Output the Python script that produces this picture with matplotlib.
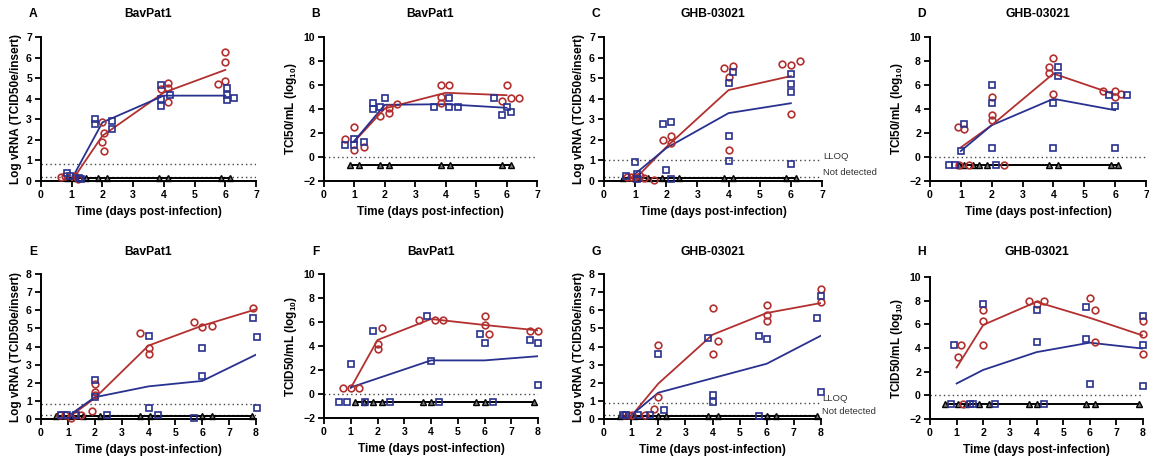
import matplotlib
matplotlib.use("Agg")
import matplotlib.pyplot as plt
import numpy as np

plt.rcParams["font.family"] = ["Liberation Sans", "DejaVu Sans"]
plt.rcParams["font.weight"] = "bold"
plt.rcParams["mathtext.fontset"] = "custom"
plt.rcParams["mathtext.rm"] = "Liberation Sans:bold"
plt.rcParams["mathtext.bf"] = "Liberation Sans:bold"

RED = "#B2302F"
BLUE = "#28318F"

# ---- panel A: BavPat1, vRNA ----
A_RED_X = [0.65, 0.78, 1.1, 1.2, 2.0, 2.05, 2.0, 2.05, 3.9, 4.15, 4.15, 4.15, 5.75, 6.0, 6.0, 6.0]
A_RED_Y = [0.2, 0.25, 0.25, 0.1, 2.85, 2.35, 1.9, 1.45, 4.45, 4.75, 4.5, 3.85, 4.7, 6.25, 5.8, 4.85]
A_BLUE_X = [0.85, 0.95, 1.25, 1.3, 1.75, 1.75, 2.3, 2.3, 3.9, 3.9, 3.9, 4.2, 6.05, 6.05, 6.05, 6.3]
A_BLUE_Y = [0.4, 0.25, 0.15, 0.1, 3.0, 2.75, 2.9, 2.55, 4.65, 4.0, 3.65, 4.2, 4.5, 4.2, 3.95, 4.05]
A_RED_MEAN = [0.0, 2.2, 4.3, 5.4]
A_BLUE_MEAN = [0.1, 2.85, 4.15, 4.15]
A_ND_X = [0.85, 1.15, 1.45, 1.85, 2.15, 3.85, 4.15, 5.85, 6.15]

# ---- panel B: BavPat1, titre ----
B_RED_X = [0.7, 1.0, 1.0, 1.3, 1.85, 2.15, 2.15, 2.4, 3.85, 4.1, 3.85, 3.85, 6.0, 5.85, 6.15, 6.4]
B_RED_Y = [1.5, 2.5, 0.55, 0.8, 3.45, 4.1, 3.7, 4.45, 6.0, 6.0, 5.0, 4.5, 6.0, 4.7, 4.95, 4.95]
B_BLUE_X = [0.7, 1.0, 1.0, 1.3, 1.6, 1.6, 1.85, 2.0, 3.6, 4.1, 4.1, 4.4, 5.6, 6.0, 5.85, 6.15]
B_BLUE_Y = [1.0, 1.5, 1.0, 1.25, 4.5, 4.0, 4.2, 4.95, 4.2, 4.95, 4.2, 4.2, 4.95, 4.2, 3.5, 3.75]
B_RED_MEAN = [1.3, 4.05, 5.35, 5.15]
B_BLUE_MEAN = [1.35, 4.35, 4.4, 4.1]
B_ND_X = [0.85, 1.15, 1.85, 2.15, 3.85, 4.15, 5.85, 6.15]

# ---- panel C: GHB-03021, vRNA ----
C_RED_X = [0.75, 0.88, 1.0, 1.15, 1.3, 1.6, 1.9, 2.15, 2.15, 3.85, 4.0, 4.15, 4.0, 5.7, 6.0, 6.3, 6.0]
C_RED_Y = [0.2, 0.2, 0.2, 0.22, 0.15, 0.05, 2.0, 2.2, 1.85, 5.5, 5.05, 5.6, 1.5, 5.7, 5.65, 5.85, 3.25]
C_BLUE_X = [0.72, 1.0, 1.05, 1.05, 1.9, 2.15, 2.0, 2.15, 4.0, 4.15, 4.0, 4.0, 6.0, 6.0, 6.0, 6.0]
C_BLUE_Y = [0.25, 0.9, 0.35, 0.08, 2.75, 2.85, 0.55, 0.08, 4.75, 5.3, 2.2, 0.95, 5.2, 4.7, 4.35, 0.85]
C_RED_MEAN = [0.1, 1.65, 4.42, 5.1]
C_BLUE_MEAN = [0.35, 1.6, 3.3, 3.78]
C_ND_X = [0.6, 1.0, 1.4, 1.85, 2.4, 3.85, 4.15, 5.85, 6.15]

# ---- panel D: GHB-03021, titre ----
D_RED_X = [0.92, 1.1, 0.95, 1.25, 2.4, 2.0, 2.0, 2.0, 4.0, 3.85, 3.85, 4.0, 5.6, 6.0, 6.0, 6.2]
D_RED_Y = [2.5, 2.3, -0.7, -0.7, -0.7, 5.0, 3.5, 3.05, 8.25, 7.5, 7.0, 5.25, 5.5, 5.5, 5.0, 5.25]
D_BLUE_X = [1.0, 1.1, 0.6, 0.8, 2.15, 2.0, 2.0, 2.0, 4.15, 4.15, 4.0, 4.0, 5.8, 6.4, 6.0, 6.0]
D_BLUE_Y = [0.5, 2.75, -0.7, -0.7, -0.7, 6.0, 4.5, 0.75, 7.5, 6.75, 4.5, 0.75, 5.2, 5.2, 4.25, 0.75]
D_RED_MEAN = [0.8, 2.65, 6.95, 5.2]
D_BLUE_MEAN = [0.5, 2.65, 4.85, 3.9]
D_ND_X = [0.95, 1.1, 1.4, 1.6, 1.85, 3.85, 4.15, 5.85, 6.1]

# ---- panel E: BavPat1, vRNA ----
E_RED_X = [0.7, 0.9, 1.1, 1.25, 1.5, 1.9, 2.0, 2.0, 2.0, 3.7, 4.0, 4.0, 5.7, 6.0, 6.35, 7.9]
E_RED_Y = [0.2, 0.2, 0.05, 0.2, 0.2, 0.45, 1.95, 1.5, 1.35, 4.75, 3.9, 3.6, 5.35, 5.05, 5.15, 6.1]
E_BLUE_X = [0.75, 0.95, 1.3, 2.0, 2.0, 2.45, 4.0, 4.0, 4.35, 6.0, 6.0, 5.7, 7.9, 8.05, 8.05]
E_BLUE_Y = [0.2, 0.2, 0.2, 2.15, 1.2, 0.2, 4.6, 0.6, 0.2, 3.9, 2.35, 0.05, 5.55, 4.55, 0.6]
E_RED_MEAN = [0.05, 1.15, 4.05, 5.15, 6.05]
E_BLUE_MEAN = [0.15, 1.2, 1.8, 2.1, 3.55]
E_ND_X = [0.55, 1.05, 1.55, 2.2, 3.7, 4.05, 6.0, 6.35, 7.85]

# ---- panel F: BavPat1, titre ----
F_RED_X = [0.7, 1.0, 1.3, 2.0, 2.0, 2.15, 3.55, 4.15, 4.45, 6.0, 6.0, 6.15, 7.7, 8.0]
F_RED_Y = [0.5, 0.5, 0.5, 4.2, 3.75, 5.5, 6.2, 6.2, 6.2, 6.5, 5.75, 5.0, 5.25, 5.25]
F_BLUE_X = [1.0, 0.55, 0.85, 1.55, 2.45, 4.3, 6.3, 1.85, 3.85, 4.0, 5.85, 6.0, 7.7, 8.0, 8.0]
F_BLUE_Y = [2.5, -0.7, -0.7, -0.7, -0.7, -0.7, -0.7, 5.25, 6.5, 2.75, 5.0, 4.25, 4.5, 4.25, 0.75]
F_RED_MEAN = [0.5, 4.5, 6.25, 5.75, 5.3]
F_BLUE_MEAN = [0.55, 1.3, 2.8, 2.8, 3.15]
F_ND_X = [1.15, 1.5, 1.85, 2.15, 3.7, 4.0, 5.7, 6.0, 7.85]

# ---- panel G: GHB-03021, vRNA ----
G_RED_X = [0.75, 0.9, 1.05, 1.5, 1.85, 2.0, 2.0, 4.0, 4.0, 4.2, 6.0, 6.0, 6.0, 8.0, 8.0]
G_RED_Y = [0.2, 0.2, 0.2, 0.2, 0.55, 1.2, 4.1, 6.15, 3.6, 4.3, 6.3, 5.75, 5.4, 7.2, 6.45]
G_BLUE_X = [0.7, 0.8, 1.25, 1.7, 2.0, 2.2, 3.85, 4.0, 4.0, 5.7, 6.0, 5.7, 8.0, 7.85, 8.0]
G_BLUE_Y = [0.2, 0.2, 0.2, 0.2, 3.6, 0.5, 4.45, 1.35, 0.95, 4.6, 4.4, 0.15, 6.8, 5.55, 1.5]
G_RED_MEAN = [0.15, 1.95, 4.65, 5.85, 6.4]
G_BLUE_MEAN = [0.2, 1.45, 2.25, 3.05, 4.6]
G_ND_X = [0.58, 1.1, 2.0, 2.3, 3.85, 4.2, 6.0, 6.35, 7.85]

# ---- panel H: GHB-03021, titre ----
H_RED_X = [1.05, 1.15, 1.25, 2.0, 2.0, 2.0, 3.7, 4.0, 4.3, 6.0, 6.2, 6.2, 8.0, 8.0, 8.0]
H_RED_Y = [3.25, 4.25, -0.7, 7.25, 6.25, 4.25, 8.0, 7.75, 8.0, 8.25, 7.25, 4.5, 6.25, 5.2, 3.5]
H_BLUE_X = [0.9, 0.8, 1.5, 1.6, 2.45, 4.3, 2.0, 4.0, 4.0, 5.85, 5.85, 6.0, 8.0, 8.0, 8.0]
H_BLUE_Y = [4.25, -0.7, -0.7, -0.7, -0.7, -0.7, 7.75, 7.25, 4.5, 7.5, 4.75, 1.0, 6.7, 4.25, 0.75]
H_RED_MEAN = [2.35, 5.95, 7.9, 6.55, 5.05]
H_BLUE_MEAN = [1.0, 2.15, 3.65, 4.45, 3.95]
H_ND_X = [0.55, 1.05, 1.35, 1.85, 2.2, 3.7, 4.0, 5.85, 6.2, 7.85]

DAYS_SHORT = [1, 2, 4, 6]
DAYS_LONG = [1, 2, 4, 6, 8]

RNA_LABEL = "Log vRNA (TCID50e/insert)"
TCI_LABEL = r"TCI50/mL (log$_{10}$)"
TCID_LABEL = r"TCID50/mL (log$_{10}$)"

# figure-pixel boxes (left, right, top, bottom)
W, H = 1149, 465
PANELS = [
    dict(letter="A", title="BavPat1", box=(41, 256, 37, 181), ylabel=RNA_LABEL, xmax=7, ylim=(0, 7), ystep=1,
         rx=A_RED_X, ry=A_RED_Y, bx=A_BLUE_X, by=A_BLUE_Y, days=DAYS_SHORT, rm=A_RED_MEAN, bm=A_BLUE_MEAN,
         nd=A_ND_X, nd_y=0.15, dots=[0.85, 0.2], notes=None),
    dict(letter="B", title="BavPat1", box=(324, 537, 37, 181), ylabel=TCI_LABEL, xmax=7, ylim=(-2, 10), ystep=2,
         rx=B_RED_X, ry=B_RED_Y, bx=B_BLUE_X, by=B_BLUE_Y, days=DAYS_SHORT, rm=B_RED_MEAN, bm=B_BLUE_MEAN,
         nd=B_ND_X, nd_y=-0.7, dots=[0.0], notes=None),
    dict(letter="C", title="GHB-03021", box=(604, 822, 37, 181), ylabel=RNA_LABEL, xmax=7, ylim=(0, 7), ystep=1,
         rx=C_RED_X, ry=C_RED_Y, bx=C_BLUE_X, by=C_BLUE_Y, days=DAYS_SHORT, rm=C_RED_MEAN, bm=C_BLUE_MEAN,
         nd=C_ND_X, nd_y=0.15, dots=[1.0, 0.2], notes=["LLOQ", "Not detected"]),
    dict(letter="D", title="GHB-03021", box=(930, 1146, 37, 181), ylabel=TCI_LABEL, xmax=7, ylim=(-2, 10), ystep=2,
         rx=D_RED_X, ry=D_RED_Y, bx=D_BLUE_X, by=D_BLUE_Y, days=DAYS_SHORT, rm=D_RED_MEAN, bm=D_BLUE_MEAN,
         nd=D_ND_X, nd_y=-0.7, dots=[0.0], notes=None),
    dict(letter="E", title="BavPat1", box=(41, 256, 274, 419), ylabel=RNA_LABEL, xmax=8, ylim=(0, 8), ystep=1,
         rx=E_RED_X, ry=E_RED_Y, bx=E_BLUE_X, by=E_BLUE_Y, days=DAYS_LONG, rm=E_RED_MEAN, bm=E_BLUE_MEAN,
         nd=E_ND_X, nd_y=0.15, dots=[0.85, 0.2], notes=None),
    dict(letter="F", title="BavPat1", box=(324, 538, 274, 418), ylabel=TCID_LABEL, xmax=8, ylim=(-2, 10), ystep=2,
         rx=F_RED_X, ry=F_RED_Y, bx=F_BLUE_X, by=F_BLUE_Y, days=DAYS_LONG, rm=F_RED_MEAN, bm=F_BLUE_MEAN,
         nd=F_ND_X, nd_y=-0.7, dots=[0.0], notes=None),
    dict(letter="G", title="GHB-03021", box=(604, 821, 274, 419), ylabel=RNA_LABEL, xmax=8, ylim=(0, 8), ystep=1,
         rx=G_RED_X, ry=G_RED_Y, bx=G_BLUE_X, by=G_BLUE_Y, days=DAYS_LONG, rm=G_RED_MEAN, bm=G_BLUE_MEAN,
         nd=G_ND_X, nd_y=0.15, dots=[0.9, 0.2], notes=["LLOQ", "Not detected"]),
    dict(letter="H", title="GHB-03021", box=(930, 1143, 277, 419), ylabel=TCID_LABEL, xmax=8, ylim=(-2, 10), ystep=2,
         rx=H_RED_X, ry=H_RED_Y, bx=H_BLUE_X, by=H_BLUE_Y, days=DAYS_LONG, rm=H_RED_MEAN, bm=H_BLUE_MEAN,
         nd=H_ND_X, nd_y=-0.7, dots=[0.0], notes=None),
]


def draw_panel(fig, p):
    l, r, t, b = p["box"]
    ax = fig.add_axes([l / W, 1 - b / H, (r - l) / W, (b - t) / H])

    for y in p["dots"]:
        ax.axhline(y, color="#444444", linestyle=(0, (1, 2.2)), linewidth=1.0, zorder=1)

    nd = p["nd"]
    ax.plot(nd, [p["nd_y"]] * len(nd), color="black", linewidth=1.4, marker="^", markersize=4.2,
            markerfacecolor="#777777", markeredgecolor="black", markeredgewidth=1.0, zorder=2, clip_on=False)

    ax.plot(p["days"], p["rm"], color=RED, linewidth=1.3, zorder=3)
    ax.plot(p["days"], p["bm"], color=BLUE, linewidth=1.3, zorder=3)
    ax.plot(p["rx"], p["ry"], linestyle="none", marker="o", markersize=4.8, markerfacecolor="none",
            markeredgecolor=RED, markeredgewidth=1.2, zorder=4, clip_on=False)
    ax.plot(p["bx"], p["by"], linestyle="none", marker="s", markersize=4.6, markerfacecolor="none",
            markeredgecolor=BLUE, markeredgewidth=1.2, zorder=4, clip_on=False)

    if p["notes"]:
        for y, txt in zip(p["dots"], p["notes"]):
            ax.annotate(txt, xy=(1.0, y), xycoords=("axes fraction", "data"), xytext=(1, 3),
                        textcoords="offset points", va="center", ha="left", fontsize=6.8,
                        fontweight="normal", color="#333333", annotation_clip=False)

    ax.set_xlim(0, p["xmax"])
    ax.set_ylim(*p["ylim"])
    ax.set_xticks(np.arange(0, p["xmax"] + 1, 1))
    ax.set_yticks(np.arange(p["ylim"][0], p["ylim"][1] + 0.01, p["ystep"]))
    ax.tick_params(axis="both", direction="out", length=4, width=1.3, labelsize=7.6, pad=2.5)
    for lab in ax.get_xticklabels() + ax.get_yticklabels():
        lab.set_fontweight("bold")
    for side in ["top", "right"]:
        ax.spines[side].set_visible(False)
    for side in ["left", "bottom"]:
        ax.spines[side].set_linewidth(1.4)
        ax.spines[side].set_color("black")

    ax.set_xlabel("Time (days post-infection)", fontsize=8.5, fontweight="bold", labelpad=4)
    ax.set_ylabel(p["ylabel"], fontsize=8.5, fontweight="bold", labelpad=3)

    ty = 1 - (14 if t < 100 else 252) / H
    fig.text((l + r) / 2 / W, ty, p["title"], ha="center", va="center", fontsize=8.7, fontweight="bold")
    fig.text((l - 8) / W, ty, p["letter"], ha="center", va="center", fontsize=8.7, fontweight="bold")
    return ax


def main():
    fig = plt.figure(figsize=(W / 100, H / 100), dpi=100)
    for p in PANELS:
        draw_panel(fig, p)
    fig.savefig("out.png", dpi=100)
    plt.close(fig)


if __name__ == "__main__":
    main()
